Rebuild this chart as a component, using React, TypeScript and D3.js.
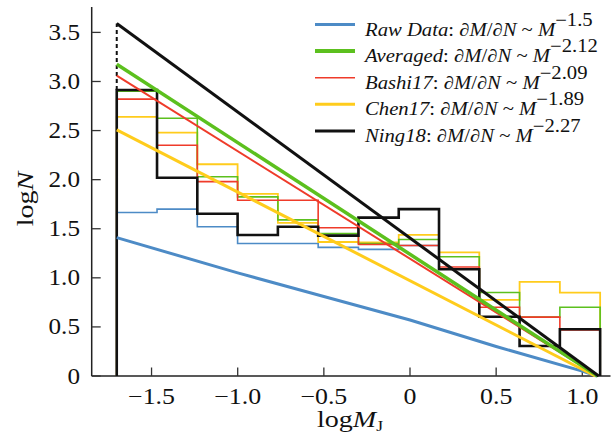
import React from 'react';
import * as d3 from 'd3';

// ---- data ----
const binStart = -1.702;
const binWidth = 0.2338;
const rawHist = [1.665, 1.7, 1.52, 1.35, 1.35, 1.31, 1.29, 1.33];
const avgHist = [2.9, 2.625, 2.03, 1.825, 1.59, 1.45, 1.35, 1.39, 1.215, 0.85, 0.6, 0.7];
const bashiHist = [2.82, 2.35, 1.98, 1.79, 1.79, 1.51, 1.34, 1.33, 1.11, 0.7, 0.6, 0.47];
const chenHist = [2.64, 2.48, 2.157, 1.855, 1.56, 1.365, 1.36, 1.437, 1.26, 0.775, 0.958, 0.85];
const ningHist = [2.914, 2.02, 1.652, 1.437, 1.52, 1.43, 1.613, 1.70, 1.087, 0.604, 0.306, 0.476];

const rawFit: [number, number][] = [[-1.702, 1.41], [-1.0, 1.05], [-0.5, 0.81], [0, 0.57], [0.5, 0.3], [1.0, 0.05], [1.085, 0.0]];
const avgFit: [number, number][] = [[-1.702, 3.176], [1.09, 0]];
const bashiFit: [number, number][] = [[-1.702, 3.06], [1.09, 0]];
const chenFit: [number, number][] = [[-1.702, 2.507], [1.075, 0]];
const ningFit: [number, number][] = [[-1.702, 3.59], [1.095, 0]];

const xTicks = [-1.5, -1.0, -0.5, 0, 0.5, 1.0];
const xTickLabels = ['\u22121.5', '\u22121.0', '\u22120.5', '0', '0.5', '1.0'];
const yTicks = [0, 0.5, 1.0, 1.5, 2.0, 2.5, 3.0, 3.5];
const yTickLabels = ['0', '0.5', '1.0', '1.5', '2.0', '2.5', '3.0', '3.5'];

const legendNames = ['Raw Data', 'Averaged', 'Bashi17', 'Chen17', 'Ning18'];
const legendExps = ['\u22121.5', '\u22122.12', '\u22122.09', '\u22121.89', '\u22122.27'];

const C = {
  blue: '#4d8bc6',
  green: '#5cc01e',
  red: '#ef3b2a',
  yellow: '#ffcc1c',
  black: '#111111',
};
const legendColors = [C.blue, C.green, C.red, C.yellow, C.black];
const legendWidths = [3, 4, 1.6, 3, 3];

const FONT = '"Liberation Serif", "Times New Roman", serif';

export default function App() {
  const x = d3.scaleLinear().domain([0, 1]).range([410, 582.3]);
  const y = d3.scaleLinear().domain([0, 3.5]).range([376, 32.4]);
  const x0 = x.invert(91.7);
  const x1 = x.invert(610.5);
  const yTop = y.invert(7);

  const edges = d3.range(13).map((i) => binStart + i * binWidth);

  const histPath = (vals: number[], close: boolean) => {
    const p = d3.path();
    p.moveTo(x(edges[0]), y(0));
    vals.forEach((v, i) => {
      p.lineTo(x(edges[i]), y(v));
      p.lineTo(x(edges[i + 1]), y(v));
    });
    if (close) p.lineTo(x(edges[vals.length]), y(0));
    return p.toString();
  };

  const line = d3
    .line<[number, number]>()
    .x((d) => x(d[0]))
    .y((d) => y(d[1]));

  return (
    <svg
      width={611}
      height={448}
      style={{ position: 'absolute', left: 0, top: 0, background: '#fff' }}
      fontFamily={FONT}
    >
      <rect x={0} y={0} width={611} height={448} fill="#fff" />

      {/* axes */}
      <line x1={x(x0)} x2={x(x1)} y1={y(0)} y2={y(0)} stroke="#222" strokeWidth={1.5} />
      <line x1={x(x0)} x2={x(x0)} y1={y(0)} y2={y(yTop)} stroke="#222" strokeWidth={1.5} />
      {xTicks.map((t, i) => (
        <g key={'xt' + i}>
          <line x1={x(t)} x2={x(t)} y1={y(0)} y2={y(0) - 8.5} stroke="#333" strokeWidth={1.3} />
          <g transform={`translate(${x(t)},404) scale(1.15,1)`}>
            <text textAnchor="middle" fontSize={22.5} fill="#111">
              {xTickLabels[i]}
            </text>
          </g>
        </g>
      ))}
      {yTicks.map((t, i) => (
        <g key={'yt' + i}>
          <line x1={x(x0)} x2={x(x0) + 9} y1={y(t)} y2={y(t)} stroke="#333" strokeWidth={1.3} />
          <g transform={`translate(80,${y(t) + 7.5}) scale(1.12,1)`}>
            <text textAnchor="end" fontSize={22.5} fill="#111">
              {yTickLabels[i]}
            </text>
          </g>
        </g>
      ))}

      {/* axis titles */}
      <g transform="translate(33,199) rotate(-90) scale(1.17,1)">
        <text textAnchor="middle" fontSize={24} fill="#111">
          log<tspan fontStyle="italic">N</tspan>
        </text>
      </g>
      <g transform="translate(350,427) scale(1.17,1)">
        <text textAnchor="middle" fontSize={24} fill="#111">
          log<tspan fontStyle="italic">M</tspan>
          <tspan fontSize={15} dy={4}>J</tspan>
        </text>
      </g>

      {/* histograms */}
      <path d={histPath(rawHist, false)} fill="none" stroke={C.blue} strokeWidth={1.6} />
      <path d={histPath(chenHist, true)} fill="none" stroke={C.yellow} strokeWidth={1.8} />
      <path d={histPath(avgHist, true)} fill="none" stroke={C.green} strokeWidth={1.6} />
      <path d={histPath(bashiHist, true)} fill="none" stroke={C.red} strokeWidth={1.6} />
      <path d={histPath(ningHist, true)} fill="none" stroke={C.black} strokeWidth={2.6} />

      {/* dashed extension */}
      <line
        x1={x(binStart)}
        x2={x(binStart)}
        y1={y(ningHist[0])}
        y2={y(ningFit[0][1])}
        stroke={C.black}
        strokeWidth={2}
        strokeDasharray="4 3"
      />

      {/* fits */}
      <path d={line(rawFit) || ''} fill="none" stroke={C.blue} strokeWidth={3} />
      <path d={line(chenFit) || ''} fill="none" stroke={C.yellow} strokeWidth={3} />
      <path d={line(bashiFit) || ''} fill="none" stroke={C.red} strokeWidth={2} />
      <path d={line(avgFit) || ''} fill="none" stroke={C.green} strokeWidth={3.5} />
      <path d={line(ningFit) || ''} fill="none" stroke={C.black} strokeWidth={3} />

      {/* legend */}
      {legendNames.map((n, i) => {
        const base = 35.5 + i * 26.6;
        return (
          <g key={'lg' + i}>
            <line
              x1={315}
              x2={355}
              y1={base - 11}
              y2={base - 11}
              stroke={legendColors[i]}
              strokeWidth={legendWidths[i]}
            />
            <g transform={`translate(365,${base}) scale(1.15,1)`}>
              <text fontSize={18} fill="#111">
                <tspan fontStyle="italic">{n}</tspan>
                <tspan>: </tspan>
                <tspan fontStyle="italic">{'\u2202M'}</tspan>
                <tspan>/</tspan>
                <tspan fontStyle="italic">{'\u2202N'}</tspan>
                <tspan>{' ~ '}</tspan>
                <tspan fontStyle="italic">M</tspan>
                <tspan dy={-10}>{legendExps[i]}</tspan>
              </text>
            </g>
          </g>
        );
      })}
    </svg>
  );
}
